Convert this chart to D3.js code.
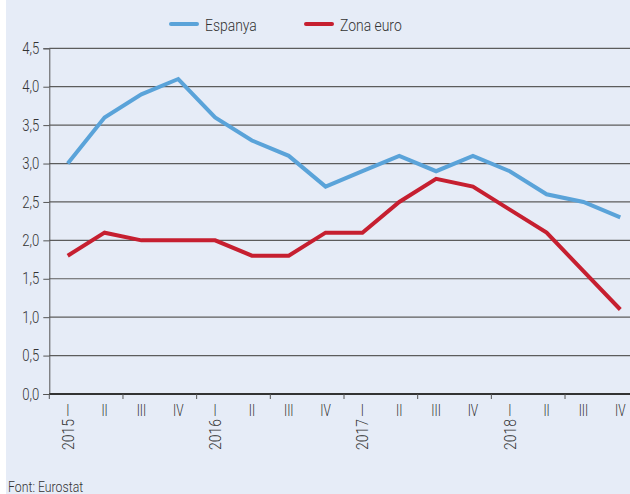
<!DOCTYPE html>
<html>
<head>
<meta charset="utf-8">
<script src="https://cdn.jsdelivr.net/npm/d3@7"></script>
<style>
  body { margin: 0; background: #fff; }
  svg text { font-family: Roboto, "Liberation Sans", sans-serif; font-weight: 300; fill: #333; }
</style>
</head>
<body>
<div id="chart"></div>
<script>
// quarters and years
let quarters = ["I", "II", "III", "IV", "I", "II", "III", "IV", "I", "II", "III", "IV", "I", "II", "III", "IV"];
let years = ["2015", "2016", "2017", "2018"];
let espanya = [3.0, 3.6, 3.9, 4.1, 3.6, 3.3, 3.1, 2.7, 2.9, 3.1, 2.9, 3.1, 2.9, 2.6, 2.5, 2.3];
let zonaEuro = [1.8, 2.1, 2.0, 2.0, 2.0, 1.8, 1.8, 2.1, 2.1, 2.5, 2.8, 2.7, 2.4, 2.1, 1.6, 1.1];
let yTicks = [0, 0.5, 1, 1.5, 2, 2.5, 3, 3.5, 4, 4.5];
let seriesNames = ["Espanya", "Zona euro"];
let seriesColors = ["#5aa3d9", "#c61f30"];

let width = 630, height = 494;
let squeeze = 0.82; // condensed look
let svg = d3.select("#chart").append("svg")
    .attr("width", width)
    .attr("height", height);

svg.append("rect")
    .attr("x", 6).attr("y", 0)
    .attr("width", width - 6).attr("height", height)
    .attr("fill", "#e6ecf7");

let plotLeft = 49.3, plotRight = 638.7, plotTop = 48.3, plotBottom = 394;

let x = d3.scaleBand()
    .domain(d3.range(quarters.length))
    .range([plotLeft, plotRight])
    .padding(0);
let cx = i => x(i) + x.bandwidth() / 2;

let y = d3.scaleLinear()
    .domain([0, 4.5])
    .range([plotBottom, plotTop]);

let fmt = d => d3.format(".1f")(d).replace(".", ",");

// gridlines
svg.append("g")
    .selectAll("line")
    .data(yTicks.filter(d => d > 0))
    .join("line")
    .attr("x1", plotLeft).attr("x2", width)
    .attr("y1", d => y(d)).attr("y2", d => y(d))
    .attr("stroke", "#5c5c5c")
    .attr("stroke-width", 1.2);

// y axis
let yAxis = svg.append("g")
    .attr("transform", `translate(${plotLeft},0)`)
    .call(d3.axisLeft(y).tickValues(yTicks).tickFormat(fmt).tickSize(6).tickPadding(4));
yAxis.select(".domain").attr("stroke", "#555").attr("stroke-width", 1);
yAxis.selectAll(".tick line").attr("stroke", "#555");
yAxis.selectAll(".tick text")
    .style("font-size", "16px")
    .attr("fill", "#333")
    .attr("x", -10 / squeeze)
    .attr("transform", `scale(${squeeze},1)`);

// x axis baseline and ticks
svg.append("line")
    .attr("x1", plotLeft).attr("x2", width)
    .attr("y1", plotBottom).attr("y2", plotBottom)
    .attr("stroke", "#333").attr("stroke-width", 2);

svg.append("g")
    .selectAll("line")
    .data(d3.range(0, quarters.length, 2))
    .join("line")
    .attr("x1", d => x(d)).attr("x2", d => x(d))
    .attr("y1", plotBottom).attr("y2", plotBottom + 5)
    .attr("stroke", "#555").attr("stroke-width", 1);

// quarter labels
svg.append("g")
    .selectAll("text")
    .data(quarters)
    .join("text")
    .attr("transform", (d, i) => `translate(${cx(i)},416) scale(0.7,1)`)
    .attr("text-anchor", "middle")
    .style("font-size", "17px")
    .attr("fill", "#444")
    .text(d => d);

// year labels (rotated)
svg.append("g")
    .selectAll("text")
    .data(years)
    .join("text")
    .attr("transform", (d, i) => `translate(${cx(i * 4) + 6},419) rotate(-90) scale(${squeeze},1)`)
    .attr("text-anchor", "end")
    .style("font-size", "17px")
    .attr("fill", "#444")
    .text(d => d);

// lines
let line = d3.line()
    .x((d, i) => cx(i))
    .y(d => y(d));

[espanya, zonaEuro].forEach((s, k) => {
    svg.append("path")
        .datum(s)
        .attr("fill", "none")
        .attr("stroke", seriesColors[k])
        .attr("stroke-width", 4)
        .attr("stroke-linejoin", "miter")
        .attr("d", line);
});

// legend
let legendX = [171, 306];
let legend = svg.append("g");
seriesNames.forEach((n, k) => {
    legend.append("line")
        .attr("x1", legendX[k]).attr("x2", legendX[k] + 26)
        .attr("y1", 24).attr("y2", 24)
        .attr("stroke", seriesColors[k])
        .attr("stroke-width", 4)
        .attr("stroke-linecap", "round");
    legend.append("text")
        .attr("transform", `translate(${legendX[k] + 34},31) scale(${squeeze},1)`)
        .style("font-size", "17px")
        .text(n);
});

// source
svg.append("text")
    .attr("transform", `translate(8,492) scale(${squeeze},1)`)
    .style("font-size", "15px")
    .text("Font: Eurostat");
</script>
</body>
</html>
